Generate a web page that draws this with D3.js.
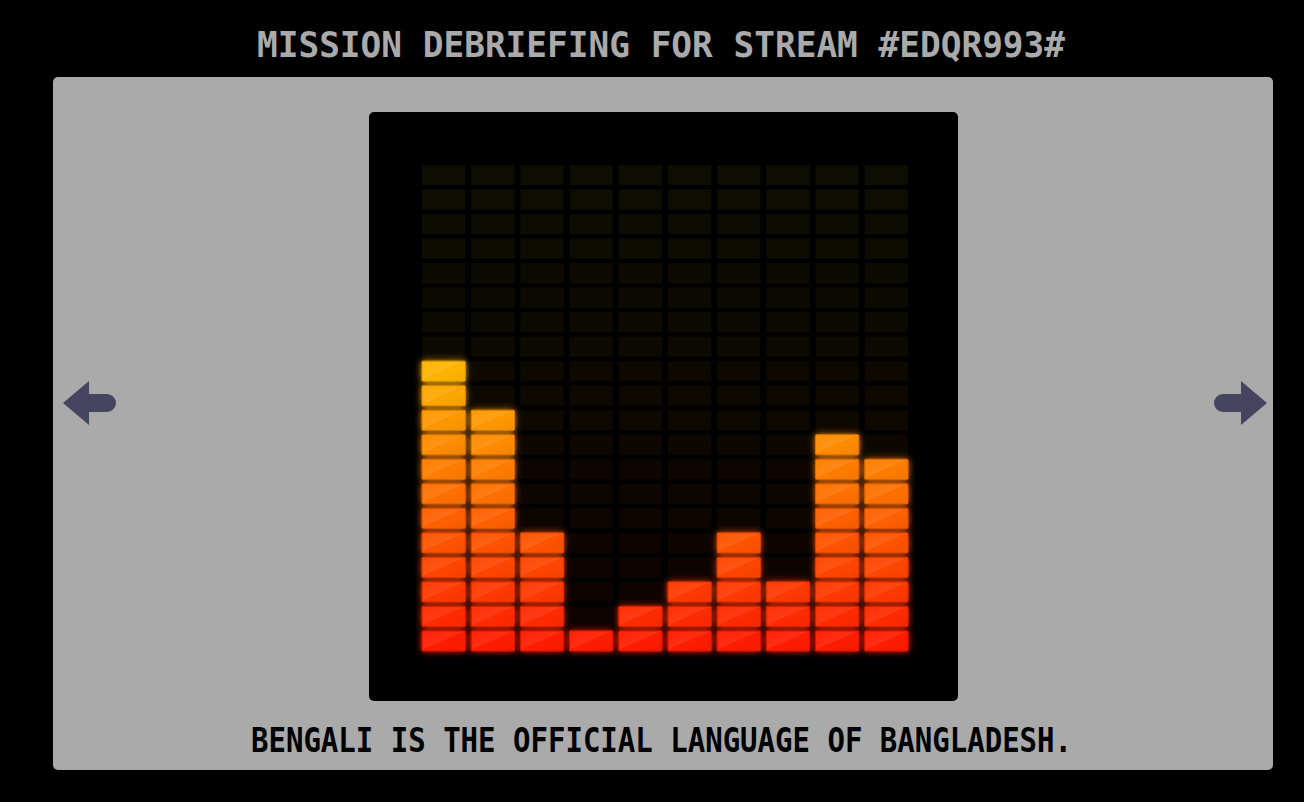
<!DOCTYPE html>
<html>
<head>
<meta charset="utf-8">
<script src="https://cdn.jsdelivr.net/npm/d3@7"></script>
<style>
  html, body { margin: 0; padding: 0; background: #000; }
  svg { display: block; }
</style>
</head>
<body>
<svg id="chart" width="1304" height="802"></svg>
<script>
// ---- data ----
const categories = ["1", "2", "3", "4", "5", "6", "7", "8", "9", "10"];
const values = [12, 10, 5, 1, 2, 3, 5, 3, 9, 8];
const levels = d3.range(1, 21); // 20 level rows
const titleText = "MISSION DEBRIEFING FOR STREAM #EDQR993#";
const captionText = "BENGALI IS THE OFFICIAL LANGUAGE OF BANGLADESH.";

const svg = d3.select("#chart");
const defs = svg.append("defs");

// glow filter
const glow = defs.append("filter").attr("id", "glow")
  .attr("x", "-50%").attr("y", "-50%").attr("width", "200%").attr("height", "200%");
glow.append("feGaussianBlur").attr("in", "SourceGraphic").attr("stdDeviation", 3.5).attr("result", "blur");
const merge = glow.append("feMerge");
merge.append("feMergeNode").attr("in", "blur");
merge.append("feMergeNode").attr("in", "SourceGraphic");

// shine gradient
const shine = defs.append("linearGradient").attr("id", "shine")
  .attr("x1", "0").attr("y1", "0").attr("x2", "1").attr("y2", "1");
shine.append("stop").attr("offset", "0").attr("stop-color", "#fff").attr("stop-opacity", 0.03);
shine.append("stop").attr("offset", "0.45").attr("stop-color", "#fff").attr("stop-opacity", 0.08);
shine.append("stop").attr("offset", "0.55").attr("stop-color", "#000").attr("stop-opacity", 0.0);
shine.append("stop").attr("offset", "1").attr("stop-color", "#000").attr("stop-opacity", 0.05);

// title
svg.append("text")
  .attr("x", 257).attr("y", 57)
  .attr("textLength", 808).attr("lengthAdjust", "spacingAndGlyphs")
  .attr("font-family", "DejaVu Sans Mono").attr("font-size", 36).attr("font-weight", "bold")
  .attr("fill", "#aaaaaa")
  .text(titleText);

// grey panel
svg.append("rect")
  .attr("x", 53).attr("y", 77).attr("width", 1220).attr("height", 693)
  .attr("rx", 5).attr("fill", "#aaaaaa");

// black panel
svg.append("rect")
  .attr("x", 369).attr("y", 112).attr("width", 589).attr("height", 589)
  .attr("rx", 5).attr("fill", "#000");

// scales
const x = d3.scaleBand().domain(categories).range([422, 908]).paddingInner(0.12).paddingOuter(0);
const y = d3.scaleBand().domain(levels).range([651, 165]).paddingInner(0.18).paddingOuter(0);
const color = d3.scaleLinear().domain([1, 12, 20]).range(["#ff1c00", "#ffb400", "#ffff30"]);

// cells
const cells = [];
categories.forEach((c, i) => {
  levels.forEach(l => cells.push({ cat: c, level: l, lit: l <= values[i] }));
});

const g = svg.append("g");

// unlit cells
g.selectAll("rect.off").data(cells.filter(d => !d.lit)).join("rect")
  .attr("class", "off")
  .attr("x", d => x(d.cat)).attr("y", d => y(d.level))
  .attr("width", x.bandwidth()).attr("height", y.bandwidth())
  .attr("rx", 1)
  .attr("fill", d => color(d.level)).attr("fill-opacity", 0.05);

// lit cells
const lit = g.append("g").attr("filter", "url(#glow)");
lit.selectAll("rect.on").data(cells.filter(d => d.lit)).join("rect")
  .attr("class", "on")
  .attr("x", d => x(d.cat)).attr("y", d => y(d.level))
  .attr("width", x.bandwidth()).attr("height", y.bandwidth())
  .attr("rx", 1)
  .attr("fill", d => color(d.level))
  .attr("stroke", d => d3.color(color(d.level)).darker(0.5))
  .attr("stroke-width", 1);
g.selectAll("rect.shine").data(cells.filter(d => d.lit)).join("rect")
  .attr("class", "shine")
  .attr("x", d => x(d.cat) + 1).attr("y", d => y(d.level) + 1)
  .attr("width", x.bandwidth() - 2).attr("height", y.bandwidth() - 2)
  .attr("fill", "url(#shine)");

// arrows
const arrowColor = "#45455f";
function arrow(dir, cx) {
  const p = d3.path();
  const tip = cx, cy = 403;
  const headLen = 26, headHalf = 22, shaftHalf = 9, shaftLen = 27;
  p.moveTo(tip, cy);
  p.lineTo(tip - dir * headLen, cy - headHalf);
  p.lineTo(tip - dir * headLen, cy - shaftHalf);
  p.lineTo(tip - dir * (headLen + shaftLen - shaftHalf), cy - shaftHalf);
  p.arc(tip - dir * (headLen + shaftLen - shaftHalf), cy, shaftHalf, -Math.PI / 2, Math.PI / 2, dir > 0);
  p.lineTo(tip - dir * headLen, cy + shaftHalf);
  p.lineTo(tip - dir * headLen, cy + headHalf);
  p.closePath();
  svg.append("path").attr("d", p.toString()).attr("fill", arrowColor);
}
arrow(-1, 63);
arrow(1, 1267);

// caption
svg.append("text")
  .attr("x", 251).attr("y", 752)
  .attr("textLength", 821).attr("lengthAdjust", "spacingAndGlyphs")
  .attr("font-family", "DejaVu Sans Mono").attr("font-size", 34).attr("font-weight", "bold")
  .attr("fill", "#000")
  .text(captionText);
</script>
</body>
</html>
